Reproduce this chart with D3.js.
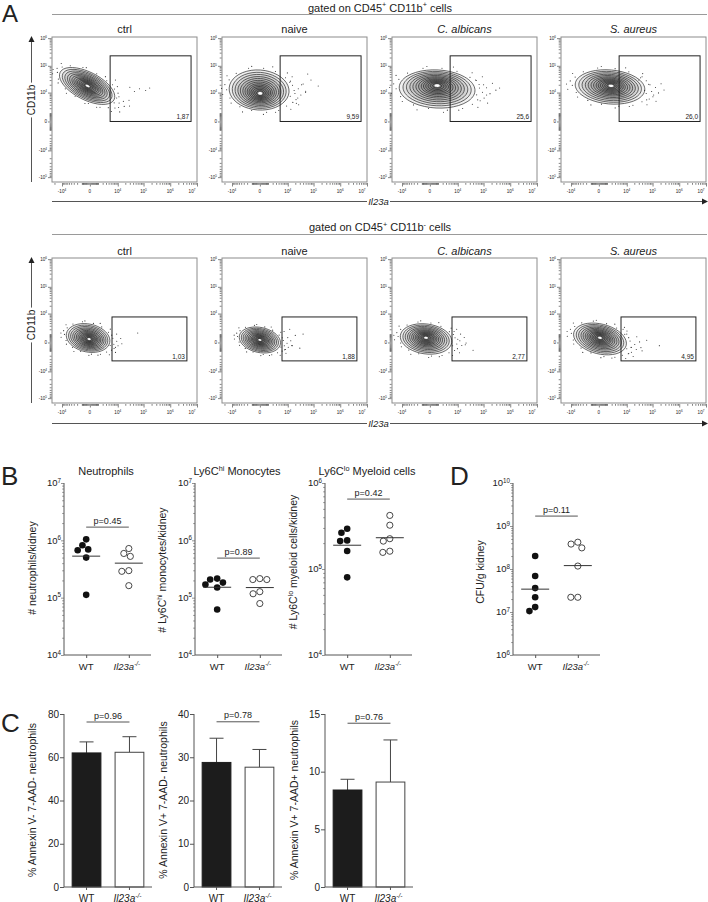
<!DOCTYPE html>
<html><head><meta charset="utf-8">
<script src="https://cdn.jsdelivr.net/npm/d3@7/dist/d3.min.js"></script>
<style>
body{margin:0;background:#fff}
svg{display:block}
text{font-family:"Liberation Sans",Arial,Helvetica,sans-serif;fill:#222}
</style></head>
<body><svg id="c" width="708" height="902"></svg>
<script>
// ================= DATA =================
// Panel A (flow cytometry)
const flowSamples = ["ctrl", "naive", "C. albicans", "S. aureus"];
const flowSampleItalic = [false, false, true, true];
const gatePctTop = ["1,87", "9,59", "25,6", "26,0"];
const gatePctBottom = ["1,03", "1,88", "2,77", "4,95"];
const gateTopX = [4700, 6e6], gateTopY = [0, 2.3e5];
const gateBottomX = [5700, 4.2e6], gateBottomY = [-3600, 7300];
const flowXTicks = [-1e4, 0, 1e4, 1e5, 1e6, 1e7];
const flowXTickLabels = [["-10","4"],["0",""],["10","4"],["10","5"],["10","6"],["10","7"]];
const flowYTicks = [-1e5, -1e4, 0, 1e4, 1e5, 1e6];
const flowYTickLabels = [["-10","5"],["-10","4"],["0",""],["10","4"],["10","5"],["10","6"]];
// populations: centre (data values), spread (display units), tilt, core shift
const popTop = [
  {cx:-270, cy:1.8e4, sx:2.6, sy:1.15, rot:27, ox:0.05, oy:0.0},
  {cx:-70, cy:1.26e4, sx:2.58, sy:1.66, rot:4, ox:0.1, oy:-0.3},
  {cx:860, cy:1.38e4, sx:3.26, sy:1.58, rot:3, ox:0.0, oy:0.3},
  {cx:1600, cy:1.65e4, sx:3.0, sy:1.41, rot:5, ox:0.1, oy:0.1}
];
const popBottom = [
  {cx:-170, cy:450, sx:1.9, sy:1.16, rot:12, ox:0.1, oy:-0.1},
  {cx:0, cy:230, sx:1.8, sy:1.04, rot:12, ox:0.0, oy:0.0},
  {cx:-390, cy:340, sx:2.23, sy:1.24, rot:8, ox:0.0, oy:0.1},
  {cx:100, cy:340, sx:2.32, sy:1.24, rot:14, ox:0.0, oy:0.1}
];
// sparse events (data values)
const eventsTop = [
  [[3e4,1.6e4],[4.5e4,1.1e4],[7e4,1.4e4],[1.2e5,1.2e4],[1.7e5,1.5e4],[8e3,3e4],[9e3,6e3],[6e3,2e4]],
  [[1.2e4,2.5e4],[1.8e4,1.2e4],[2.5e4,6e3],[3.5e4,2e4],[5e4,1e4],[8e4,3e4],[1.5e5,1.8e4],[1.5e4,4e4],[2.2e4,3.5e3],[6e4,5e4]],
  [[5e4,3e4],[7e4,1.5e4],[1e5,2e4],[1.3e5,8e3],[4e5,1.5e4],[6e4,5e3],[9e4,4e4]],
  [[3e4,3e4],[5e4,1.2e4],[8e4,2e4],[1.1e5,8e3],[6e4,5e3],[4e4,4e4]]
];
const eventsBottom = [
  [[9e3,1e3],[6e4,1.2e3],[8e3,-500]],
  [[7e3,1.5e3],[1e4,500],[1.5e4,-300],[2e4,800],[3e4,-600],[4e4,1e3],[1.2e4,2e3],[8e3,-800]],
  [[7e3,1.5e3],[1e4,300],[1.3e4,1e3],[2e4,-200],[4e4,-900],[9e3,2e3]],
  [[7e3,2e3],[1e4,1e3],[1.5e4,-500],[2.5e4,600],[4e4,-1e3],[6e4,200],[1.8e5,-300],[1.2e4,-1.5e3],[8e3,2.5e3]]
];
// edge scatter pattern in population-normalised units
const edgeDots = [[1.05,0.2],[1.1,-0.35],[1.15,0.5],[0.95,0.7],[0.7,0.95],[0.3,1.08],[-0.2,1.05],[-0.6,0.9],[-0.95,0.5],[-1.08,0.1],[-1.02,-0.4],[-0.8,-0.75],[-0.4,-1.05],[0.1,-1.1],[0.5,-0.98],[0.85,-0.7],[1.2,0.05],[1.3,-0.2],[1.25,0.35],[1.4,0.1],[-1.15,-0.15],[0.2,1.2],[-0.3,-1.15],[1.02,-0.55],[0.6,1.05],[-0.9,0.75],[1.55,-0.1],[1.35,0.6],[-1.2,0.35],[0.9,-0.95],[1.1,0.85],[-0.5,1.15],[0.4,-1.2],[-1.1,-0.6],[1.45,-0.45],[-1.25,0.05]];
const ringLevels = [1, 0.9, 0.81, 0.72, 0.64, 0.56, 0.49, 0.42, 0.36, 0.3, 0.24, 0.18, 0.12];

// Panel B / D (counts per kidney)
const groups = ["WT", "Il23a"];
const neutroWT = [6.95e5, 8.2e5, 1.04e6, 6.7e5, 5.0e5, 1.12e5];
const neutroKO = [7.2e5, 5.25e5, 5.9e5, 2.96e5, 2.88e5, 1.62e5];
const neutroMed = [5.3e5, 4.0e5];
const monoWT = [2.07e5, 1.69e5, 2.15e5, 1.5e5, 1.83e5, 6.2e4];
const monoKO = [2.15e5, 2.07e5, 2.07e5, 1.27e5, 1.17e5, 7.9e4];
const monoMed = [1.52e5, 1.5e5];
const myeloWT = [2.94e5, 2.64e5, 2.11e5, 2.15e5, 1.62e5, 8.0e4];
const myeloKO = [4.2e5, 3.23e5, 2.25e5, 2.11e5, 1.56e5, 1.61e5];
const myeloMed = [1.89e5, 2.31e5];
const cfuWT = [2.0e8, 6.9e7, 3.6e7, 2.2e7, 1.05e7, 1.3e7];
const cfuKO = [4.2e8, 3.1e8, 3.8e8, 1.17e8, 2.2e7, 2.2e7];
const cfuMed = [3.4e7, 1.2e8];
const countP = ["p=0.45", "p=0.89", "p=0.42", "p=0.11"];
const countPLevel = [1.7e6, 4.9e5, 6.5e5, 1.7e9];

// Panel C (annexin V / 7-AAD)
const annexMeans = [[62.0, 62.3], [28.8, 27.7], [8.41, 9.1]];
const annexSD = [[5.1, 7.2], [5.6, 4.1], [0.93, 3.65]];
const annexMax = [80, 40, 15];
const annexTicks = [[0,20,40,60,80], [0,10,20,30,40], [0,5,10,15]];
const annexP = ["p=0.96", "p=0.78", "p=0.76"];
const annexPLevel = [76.3, 38.2, 14.2];

// ================= DRAWING =================
const svg = d3.select("#c");

function rich(sel, parts, fs) {
  let shift = 0;
  parts.forEach(([s, st = ""]) => {
    if (s === "") return;
    const sup = st.includes("sup");
    const t = sel.append("tspan").text(s);
    const target = sup ? -fs * 0.38 : 0;
    if (target !== shift) { t.attr("dy", target - shift); shift = target; }
    if (sup) t.attr("font-size", fs * 0.66);
    if (st.includes("it")) t.attr("font-style", "italic");
  });
  return sel;
}
function label(x, y, parts, fs, anchor = "middle", rotate = 0, extra = {}) {
  const t = svg.append("text")
    .attr("transform", `translate(${x},${y})` + (rotate ? ` rotate(${rotate})` : ""))
    .attr("text-anchor", anchor).attr("font-size", fs);
  Object.entries(extra).forEach(([k, v]) => t.attr(k, v));
  rich(t, parts, fs);
  return t;
}

// ---- Panel labels ----
label(2, 22, [["A"]], 24, "start");
label(1, 485, [["B"]], 26, "start");
label(1, 732, [["C"]], 26, "start");
label(450, 485, [["D"]], 26, "start");

// ---- Panel A ----
const FW = 145, FH = 145;
const flowX0 = [52, 222, 392, 561];
const flowXDomain = [-2.5e4, 1e7], flowYDomain = [-1.5e5, 1.1e6];
const minorVals = [];
for (let d = 2; d <= 6; d++) for (let m = 1; m <= 9; m++) { const v = m * Math.pow(10, d); if (m !== 1 || d < 4) { minorVals.push(v, -v); } }

const rows = [
  {y0: 37, headY: 11.5, lineY: 14.5, titleY: 33, axisY: 201.5, cdY: 100,
   header: [["gated on CD45"],["+","sup"],[" CD11b"],["+","sup"],[" cells"]],
   pops: popTop, pct: gatePctTop, gx: gateTopX, gy: gateTopY, ev: eventsTop},
  {y0: 258, headY: 231, lineY: 234.5, titleY: 255, axisY: 423.5, cdY: 325,
   header: [["gated on CD45"],["+","sup"],[" CD11b"],["-","sup"],[" cells"]],
   pops: popBottom, pct: gatePctBottom, gx: gateBottomX, gy: gateBottomY, ev: eventsBottom}
];

rows.forEach(row => {
  // header
  label(380, row.headY, row.header, 11);
  svg.append("line").attr("x1", 52).attr("x2", 707).attr("y1", row.lineY).attr("y2", row.lineY)
    .attr("stroke", "#9a9a9a").attr("stroke-width", 1);
  // CD11b axis line with arrow
  svg.append("line").attr("x1", 31.5).attr("x2", 31.5).attr("y1", row.y0 + 4).attr("y2", row.y0 + FH)
    .attr("stroke", "#555").attr("stroke-width", 1);
  svg.append("path").attr("d", `M31.5,${row.y0 - 1} L28.5,${row.y0 + 5} L34.5,${row.y0 + 5} Z`).attr("fill", "#222");
  const cd = label(31.5, row.cdY, [["CD11b"]], 10, "middle", -90, {dy: "0.35em"});
  const bb = cd.node().getBBox();
  svg.append("rect").attr("x", 26).attr("y", row.cdY - bb.width / 2 - 2).attr("width", 11).attr("height", bb.width + 4).attr("fill", "#fff");
  cd.raise();
  // Il23a axis line with arrow
  svg.append("line").attr("x1", 52).attr("x2", 703).attr("y1", row.axisY).attr("y2", row.axisY)
    .attr("stroke", "#555").attr("stroke-width", 1);
  svg.append("path").attr("d", `M708,${row.axisY} L702,${row.axisY - 3} L702,${row.axisY + 3} Z`).attr("fill", "#222");
  svg.append("rect").attr("x", 367).attr("y", row.axisY - 5).attr("width", 23).attr("height", 10).attr("fill", "#fff");
  label(378.5, row.axisY + 3.2, [["Il23a", "it"]], 9.5);

  flowX0.forEach((x0, i) => {
    const xs = d3.scaleSymlog().constant(1000).domain(flowXDomain).range([x0, x0 + FW]);
    const ys = d3.scaleSymlog().constant(1000).domain(flowYDomain).range([row.y0 + FH, row.y0]);
    const kx = (xs(1e4) - xs(0)) / Math.log1p(10);
    const ky = (ys(0) - ys(1e4)) / Math.log1p(10);
    const g = svg.append("g");
    // title
    label(x0 + FW / 2, row.titleY, [[flowSamples[i], flowSampleItalic[i] ? "it" : ""]], 11);
    // frame
    g.append("rect").attr("x", x0).attr("y", row.y0).attr("width", FW).attr("height", FH)
      .attr("fill", "none").attr("stroke", "#8c8c8c").attr("stroke-width", 1);
    // axes ticks
    const yMinor = minorVals.filter(v => v >= flowYDomain[0] && v <= flowYDomain[1]);
    const xMinor = minorVals.filter(v => v >= flowXDomain[0] && v <= flowXDomain[1]);
    const ay1 = g.append("g").attr("transform", `translate(${x0 - 0.5},0)`).call(d3.axisLeft(ys).tickValues(flowYTicks).tickSize(3.5).tickFormat(""));
    const ay2 = g.append("g").attr("transform", `translate(${x0 - 0.5},0)`).call(d3.axisLeft(ys).tickValues(yMinor).tickSize(1.8).tickFormat(""));
    const ax1 = g.append("g").attr("transform", `translate(0,${row.y0 + FH + 1})`).call(d3.axisBottom(xs).tickValues(flowXTicks).tickSize(3.5).tickFormat(""));
    const ax2 = g.append("g").attr("transform", `translate(0,${row.y0 + FH + 1})`).call(d3.axisBottom(xs).tickValues(xMinor).tickSize(1.8).tickFormat(""));
    [ay1, ay2, ax1, ax2].forEach(a => { a.select(".domain").remove(); a.selectAll("line").attr("stroke", "#333").attr("stroke-width", 0.6); });
    flowYTicks.forEach((v, j) => {
      const t = g.append("text").attr("x", x0 - 5).attr("y", ys(v)).attr("dy", "0.35em")
        .attr("text-anchor", "end").attr("font-size", 4.6).attr("fill", "#444");
      rich(t, [[flowYTickLabels[j][0]], [flowYTickLabels[j][1], "sup"]], 4.6);
    });
    flowXTicks.forEach((v, j) => {
      const t = g.append("text").attr("x", Math.min(xs(v), x0 + FW - 5)).attr("y", row.y0 + FH + 11)
        .attr("text-anchor", "middle").attr("font-size", 4.6).attr("fill", "#444");
      rich(t, [[flowXTickLabels[j][0]], [flowXTickLabels[j][1], "sup"]], 4.6);
    });
    // population contours
    const p = row.pops[i];
    const cx0 = xs(p.cx), cy0 = ys(p.cy), a = p.rot * Math.PI / 180;
    const toPx = (u, v, s) => {
      const cx = cx0 + (1 - s) * p.ox * kx, cy = cy0 - (1 - s) * p.oy * ky;
      const lx = u * p.sx * kx * s, ly = v * p.sy * ky * s;
      return [cx + lx * Math.cos(a) - ly * Math.sin(a), cy + lx * Math.sin(a) + ly * Math.cos(a)];
    };
    // edge scatter
    g.selectAll(".ed").data(edgeDots).join("circle")
      .attr("cx", d => toPx(d[0], d[1], 1)[0]).attr("cy", d => toPx(d[0], d[1], 1)[1])
      .attr("r", 0.55).attr("fill", "#333");
    g.selectAll(".ev").data(row.ev[i]).join("circle")
      .attr("cx", d => xs(d[0])).attr("cy", d => ys(d[1])).attr("r", 0.55).attr("fill", "#333");
    const ring = d3.line().curve(d3.curveCardinalClosed);
    g.selectAll(".ring").data(ringLevels).join("path")
      .attr("d", s => ring(d3.range(40).map(k => { const th = k / 40 * 2 * Math.PI; return toPx(Math.cos(th), Math.sin(th), s); })))
      .attr("fill", "#000").attr("fill-opacity", 0.06)
      .attr("stroke", "#1a1a1a").attr("stroke-width", 0.65);
    g.append("path").attr("d", ring(d3.range(24).map(k => { const th = k / 24 * 2 * Math.PI; return toPx(Math.cos(th), Math.sin(th), 0.07); })))
      .attr("fill", "#fff");
    // gate
    g.append("rect").attr("x", xs(row.gx[0])).attr("y", ys(row.gy[1]))
      .attr("width", xs(row.gx[1]) - xs(row.gx[0])).attr("height", ys(row.gy[0]) - ys(row.gy[1]))
      .attr("fill", "none").attr("stroke", "#222").attr("stroke-width", 1);
    g.append("text").attr("x", xs(row.gx[1]) - 2).attr("y", ys(row.gy[0]) - 2)
      .attr("text-anchor", "end").attr("font-size", 6.5).text(row.pct[i]);
  });
});

// ---- helpers for B/C ----
const BY0 = 483, BY1 = 655;
const groupLabelParts = [[["WT"]], [["Il23a", "it"], ["-/-", "itsup"]]];
function xAxis(xs, x0, x1, y, fs) {
  svg.append("line").attr("x1", x0).attr("x2", x1).attr("y1", y).attr("y2", y).attr("stroke", "#555").attr("stroke-width", 1);
  const a = svg.append("g").attr("transform", `translate(0,${y})`).call(d3.axisBottom(xs).tickSize(3).tickFormat(""));
  a.select(".domain").remove();
  a.selectAll("line").attr("stroke", "#555");
  const off = xs.bandwidth ? xs.bandwidth() / 2 : 0;
  groups.forEach((gname, i) => {
    label(xs(gname) + off + (i ? -2 : 0), y + 14.5, groupLabelParts[i], fs);
  });
}
function pBar(x1, x2, y, txt) {
  svg.append("line").attr("x1", x1).attr("x2", x2).attr("y1", y).attr("y2", y).attr("stroke", "#555").attr("stroke-width", 1);
  label((x1 + x2) / 2, y - 3.5, [[txt]], 9);
}

// ---- Panel B & D ----
const countPanels = [
  {x0: 64, dom: [1e4, 1e7], wt: neutroWT, ko: neutroKO, med: neutroMed,
   title: [["Neutrophils"]], ylab: [["# neutrophils/kidney"]], ylx: 32, yly: 568},
  {x0: 195, dom: [1e4, 1e7], wt: monoWT, ko: monoKO, med: monoMed,
   title: [["Ly6C"], ["hi", "sup"], [" Monocytes"]], ylab: [["# Ly6C"], ["hi", "sup"], [" monocytes/kidney"]], ylx: 162, yly: 570},
  {x0: 325, dom: [1e4, 1e6], wt: myeloWT, ko: myeloKO, med: myeloMed,
   title: [["Ly6C"], ["lo", "sup"], [" Myeloid cells"]], ylab: [["# Ly6C"], ["lo", "sup"], [" myeloid cells/kidney"]], ylx: 293, yly: 562},
  {x0: 513, dom: [1e6, 1e10], wt: cfuWT, ko: cfuKO, med: cfuMed,
   title: null, ylab: [["CFU/g kidney"]], ylx: 480, yly: 572}
];

function dodge(vals, ys, cxp, r) {
  const pts = vals.map(v => ({v, y: ys(v)})).sort((a, b) => a.y - b.y);
  const placed = [];
  pts.forEach(p => {
    let best = 0;
    for (let k = 0; k < 200; k++) {
      const off = (k % 2 ? -1 : 1) * Math.ceil(k / 2) * 0.25;
      const ok = placed.every(q => Math.hypot(q.x - (cxp + off), q.y - p.y) >= 2 * r + 0.3);
      if (ok) { best = off; break; }
    }
    p.x = cxp + best;
    placed.push(p);
  });
  return placed;
}

countPanels.forEach((cp, i) => {
  const ys = d3.scaleLog().domain(cp.dom).range([BY1, BY0]);
  const xs = d3.scalePoint().domain(groups).range([cp.x0, cp.x0 + 87]).padding(0.52);
  // y axis
  const majors = [];
  for (let e = Math.log10(cp.dom[0]); e <= Math.log10(cp.dom[1]); e++) majors.push(Math.pow(10, e));
  const minors = [];
  majors.slice(0, -1).forEach(m => { for (let k = 2; k <= 9; k++) minors.push(m * k); });
  svg.append("line").attr("x1", cp.x0).attr("x2", cp.x0).attr("y1", BY0).attr("y2", BY1).attr("stroke", "#555").attr("stroke-width", 1);
  const a1 = svg.append("g").attr("transform", `translate(${cp.x0},0)`).call(d3.axisLeft(ys).tickValues(majors).tickSize(3).tickFormat(""));
  const a2 = svg.append("g").attr("transform", `translate(${cp.x0},0)`).call(d3.axisLeft(ys).tickValues(minors).tickSize(1.8).tickFormat(""));
  [a1, a2].forEach(a => { a.select(".domain").remove(); a.selectAll("line").attr("stroke", "#666").attr("stroke-width", 0.7); });
  majors.forEach(m => {
    const t = svg.append("text").attr("x", cp.x0 - 3).attr("y", ys(m)).attr("dy", "0.35em")
      .attr("text-anchor", "end").attr("font-size", 9.5).attr("fill", "#333");
    rich(t, [["10"], [String(Math.round(Math.log10(m))), "sup"]], 9.5);
  });
  xAxis(xs, cp.x0, cp.x0 + 87, BY1, 9.5);
  if (cp.title) label(cp.x0 + 42, 475, cp.title, 11);
  label(cp.ylx, cp.yly, cp.ylab, 10.5, "middle", -90, {dy: "0.35em"});
  // points
  const wtPts = dodge(cp.wt, ys, xs("WT"), 3.3);
  const koPts = dodge(cp.ko, ys, xs("Il23a"), 3.3);
  svg.append("g").selectAll("circle").data(wtPts).join("circle")
    .attr("cx", d => d.x).attr("cy", d => d.y).attr("r", 3.3).attr("fill", "#111");
  svg.append("g").selectAll("circle").data(koPts).join("circle")
    .attr("cx", d => d.x).attr("cy", d => d.y).attr("r", 3.1).attr("fill", "#fff").attr("stroke", "#333").attr("stroke-width", 0.9);
  groups.forEach((gname, j) => {
    svg.append("line").attr("x1", xs(gname) - 14).attr("x2", xs(gname) + 14)
      .attr("y1", ys(cp.med[j])).attr("y2", ys(cp.med[j])).attr("stroke", "#333").attr("stroke-width", 1);
  });
  pBar(xs("WT"), xs("Il23a"), ys(countPLevel[i]), countP[i]);
});

// ---- Panel C ----
const CY0 = 714, CY1 = 887;
const annexLabels = [
  [["% Annexin V- 7-AAD- neutrophils"]],
  [["% Annexin V+ 7-AAD- neutrophils"]],
  [["% Annexin V+ 7-AAD+ neutrophils"]]
];
const cX0 = [64, 194, 325], cLabX = [32, 163, 294];
annexMeans.forEach((means, i) => {
  const x0 = cX0[i];
  const ys = d3.scaleLinear().domain([0, annexMax[i]]).range([CY1, CY0]);
  const xb = d3.scaleBand().domain(groups).range([x0, x0 + 88]).paddingInner(0.33).paddingOuter(0.19);
  svg.append("line").attr("x1", x0).attr("x2", x0).attr("y1", CY0).attr("y2", CY1).attr("stroke", "#555").attr("stroke-width", 1);
  const a = svg.append("g").attr("transform", `translate(${x0},0)`).call(d3.axisLeft(ys).tickValues(annexTicks[i]).tickSize(4).tickFormat(""));
  a.select(".domain").remove(); a.selectAll("line").attr("stroke", "#555");
  annexTicks[i].forEach(v => {
    svg.append("text").attr("x", x0 - 5).attr("y", ys(v)).attr("dy", "0.35em").attr("text-anchor", "end")
      .attr("font-size", 10).attr("fill", "#333").text(v);
  });
  // bars + error bars
  groups.forEach((gname, j) => {
    const bx = xb(gname), bw = xb.bandwidth(), cxm = bx + bw / 2;
    const top = ys(means[j] + annexSD[i][j]);
    svg.append("line").attr("x1", cxm).attr("x2", cxm).attr("y1", ys(means[j])).attr("y2", top).attr("stroke", "#444").attr("stroke-width", 1);
    svg.append("line").attr("x1", cxm - 7).attr("x2", cxm + 7).attr("y1", top).attr("y2", top).attr("stroke", "#444").attr("stroke-width", 1);
    svg.append("rect").attr("x", bx).attr("y", ys(means[j])).attr("width", bw).attr("height", ys(0) - ys(means[j]))
      .attr("fill", j === 0 ? "#1c1c1c" : "#fff").attr("stroke", j === 0 ? "#1c1c1c" : "#444").attr("stroke-width", 1);
  });
  xAxis(xb, x0, x0 + 88, CY1, 10);
  label(cLabX[i], 800, annexLabels[i], 10.5, "middle", -90, {dy: "0.35em"});
  pBar(xb("WT") + xb.bandwidth() / 2, xb("Il23a") + xb.bandwidth() / 2, ys(annexPLevel[i]), annexP[i]);
});
</script></body></html>
